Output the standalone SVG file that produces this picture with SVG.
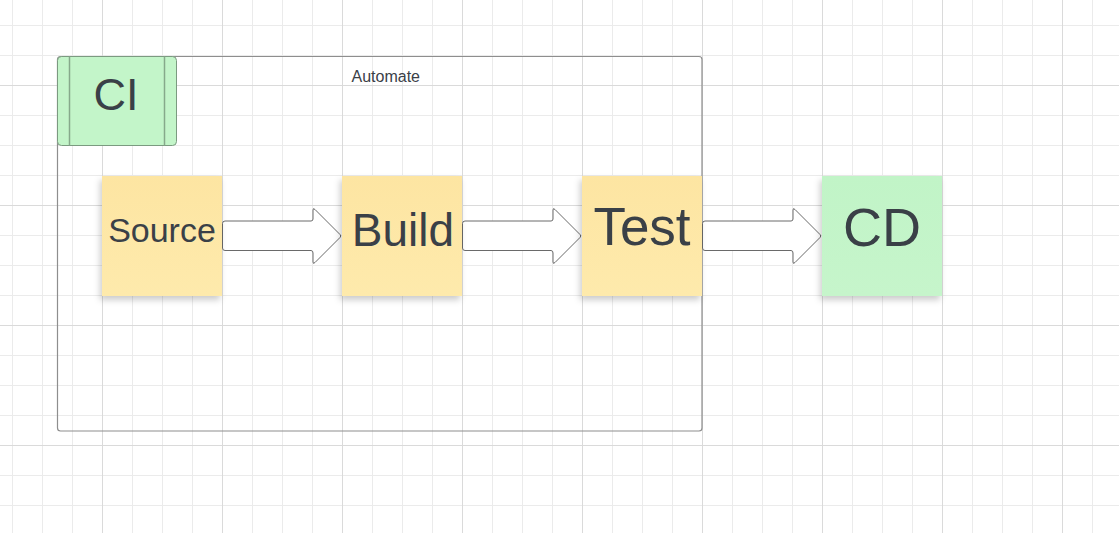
<svg xmlns="http://www.w3.org/2000/svg" width="1119" height="533" viewBox="0 0 1119 533">
<defs>
<pattern id="minor" x="12" y="25" width="30" height="30" patternUnits="userSpaceOnUse">
<path d="M0.5,0 V30 M0,0.5 H30" fill="none" stroke="#ebebeb" stroke-width="1"/>
</pattern>
<pattern id="major" x="102" y="85" width="120" height="120" patternUnits="userSpaceOnUse">
<path d="M0.5,0 V120 M0,0.5 H120" fill="none" stroke="#dadada" stroke-width="1"/>
</pattern>
<linearGradient id="yellow" x1="0" y1="0" x2="0" y2="1">
<stop offset="0" stop-color="#fde5a2"/>
<stop offset="1" stop-color="#feeaac"/>
</linearGradient>
<linearGradient id="green" x1="0" y1="0" x2="0" y2="1">
<stop offset="0" stop-color="#c1f4c7"/>
<stop offset="1" stop-color="#c6f5cb"/>
</linearGradient>
<filter id="shadow" x="-20%" y="-20%" width="140%" height="150%">
<feDropShadow dx="-2" dy="4" stdDeviation="3" flood-color="#000" flood-opacity="0.2"/>
</filter>
<path id="arrow" d="M225,221 L311,221 Q313,221 313,219 L313,210 Q313,207.5 315,209.5 L340,234.5 Q341.5,236 340,237.5 L315,262.5 Q313,264.5 313,262 L313,253 Q313,250.5 311,250.5 L225,250.5 Q222.5,250.5 222.5,248 L222.5,223.5 Q222.5,221 225,221 Z"/>
</defs>
<style>
.txt{font-family:"Liberation Sans",Arial,sans-serif;fill:#3a4047;text-anchor:middle}
.arr{fill:#ffffff;stroke:#6a6a6a;stroke-width:1}
.sticky-y{fill:url(#yellow);filter:url(#shadow)}
.sticky-g{fill:url(#green);filter:url(#shadow)}
</style>
<rect width="1119" height="533" fill="#ffffff"/>
<rect width="1119" height="533" fill="url(#minor)"/>
<rect width="1119" height="533" fill="url(#major)"/>

<g id="automate">
<rect x="57.5" y="56.5" width="644.5" height="374.5" rx="3" fill="none" stroke="#8e8e8e" stroke-width="1.2"/>
<text x="351.5" y="82" class="txt" style="font-size:16px;text-anchor:start">Automate</text>
</g>

<g id="ci">
<rect x="57.5" y="56.5" width="119" height="89" rx="4" fill="#c3f5c9" stroke="#7b9a80" stroke-width="1"/>
<line x1="69.5" y1="56.5" x2="69.5" y2="145.5" stroke="#86a98b" stroke-width="1.5"/>
<line x1="164.5" y1="56.5" x2="164.5" y2="145.5" stroke="#86a98b" stroke-width="1.5"/>
<text x="116" y="110" class="txt" style="font-size:45px">CI</text>
</g>

<g id="connectors">
<use href="#arrow" class="arr"/>
<use href="#arrow" class="arr" transform="translate(240,0)"/>
<use href="#arrow" class="arr" transform="translate(480,0)"/>
</g>

<g id="source">
<rect x="102" y="176" width="120" height="120" class="sticky-y"/>
<text x="162" y="242" class="txt" style="font-size:34px">Source</text>
</g>

<g id="build">
<rect x="342" y="176" width="120" height="120" class="sticky-y"/>
<text x="403" y="246" class="txt" style="font-size:46px">Build</text>
</g>

<g id="test">
<rect x="582" y="176" width="120" height="120" class="sticky-y"/>
<text x="642" y="245" class="txt" style="font-size:53px">Test</text>
</g>

<g id="cd">
<rect x="822" y="176" width="120" height="120" class="sticky-g"/>
<text x="882" y="246" class="txt" style="font-size:54px">CD</text>
</g>
</svg>
